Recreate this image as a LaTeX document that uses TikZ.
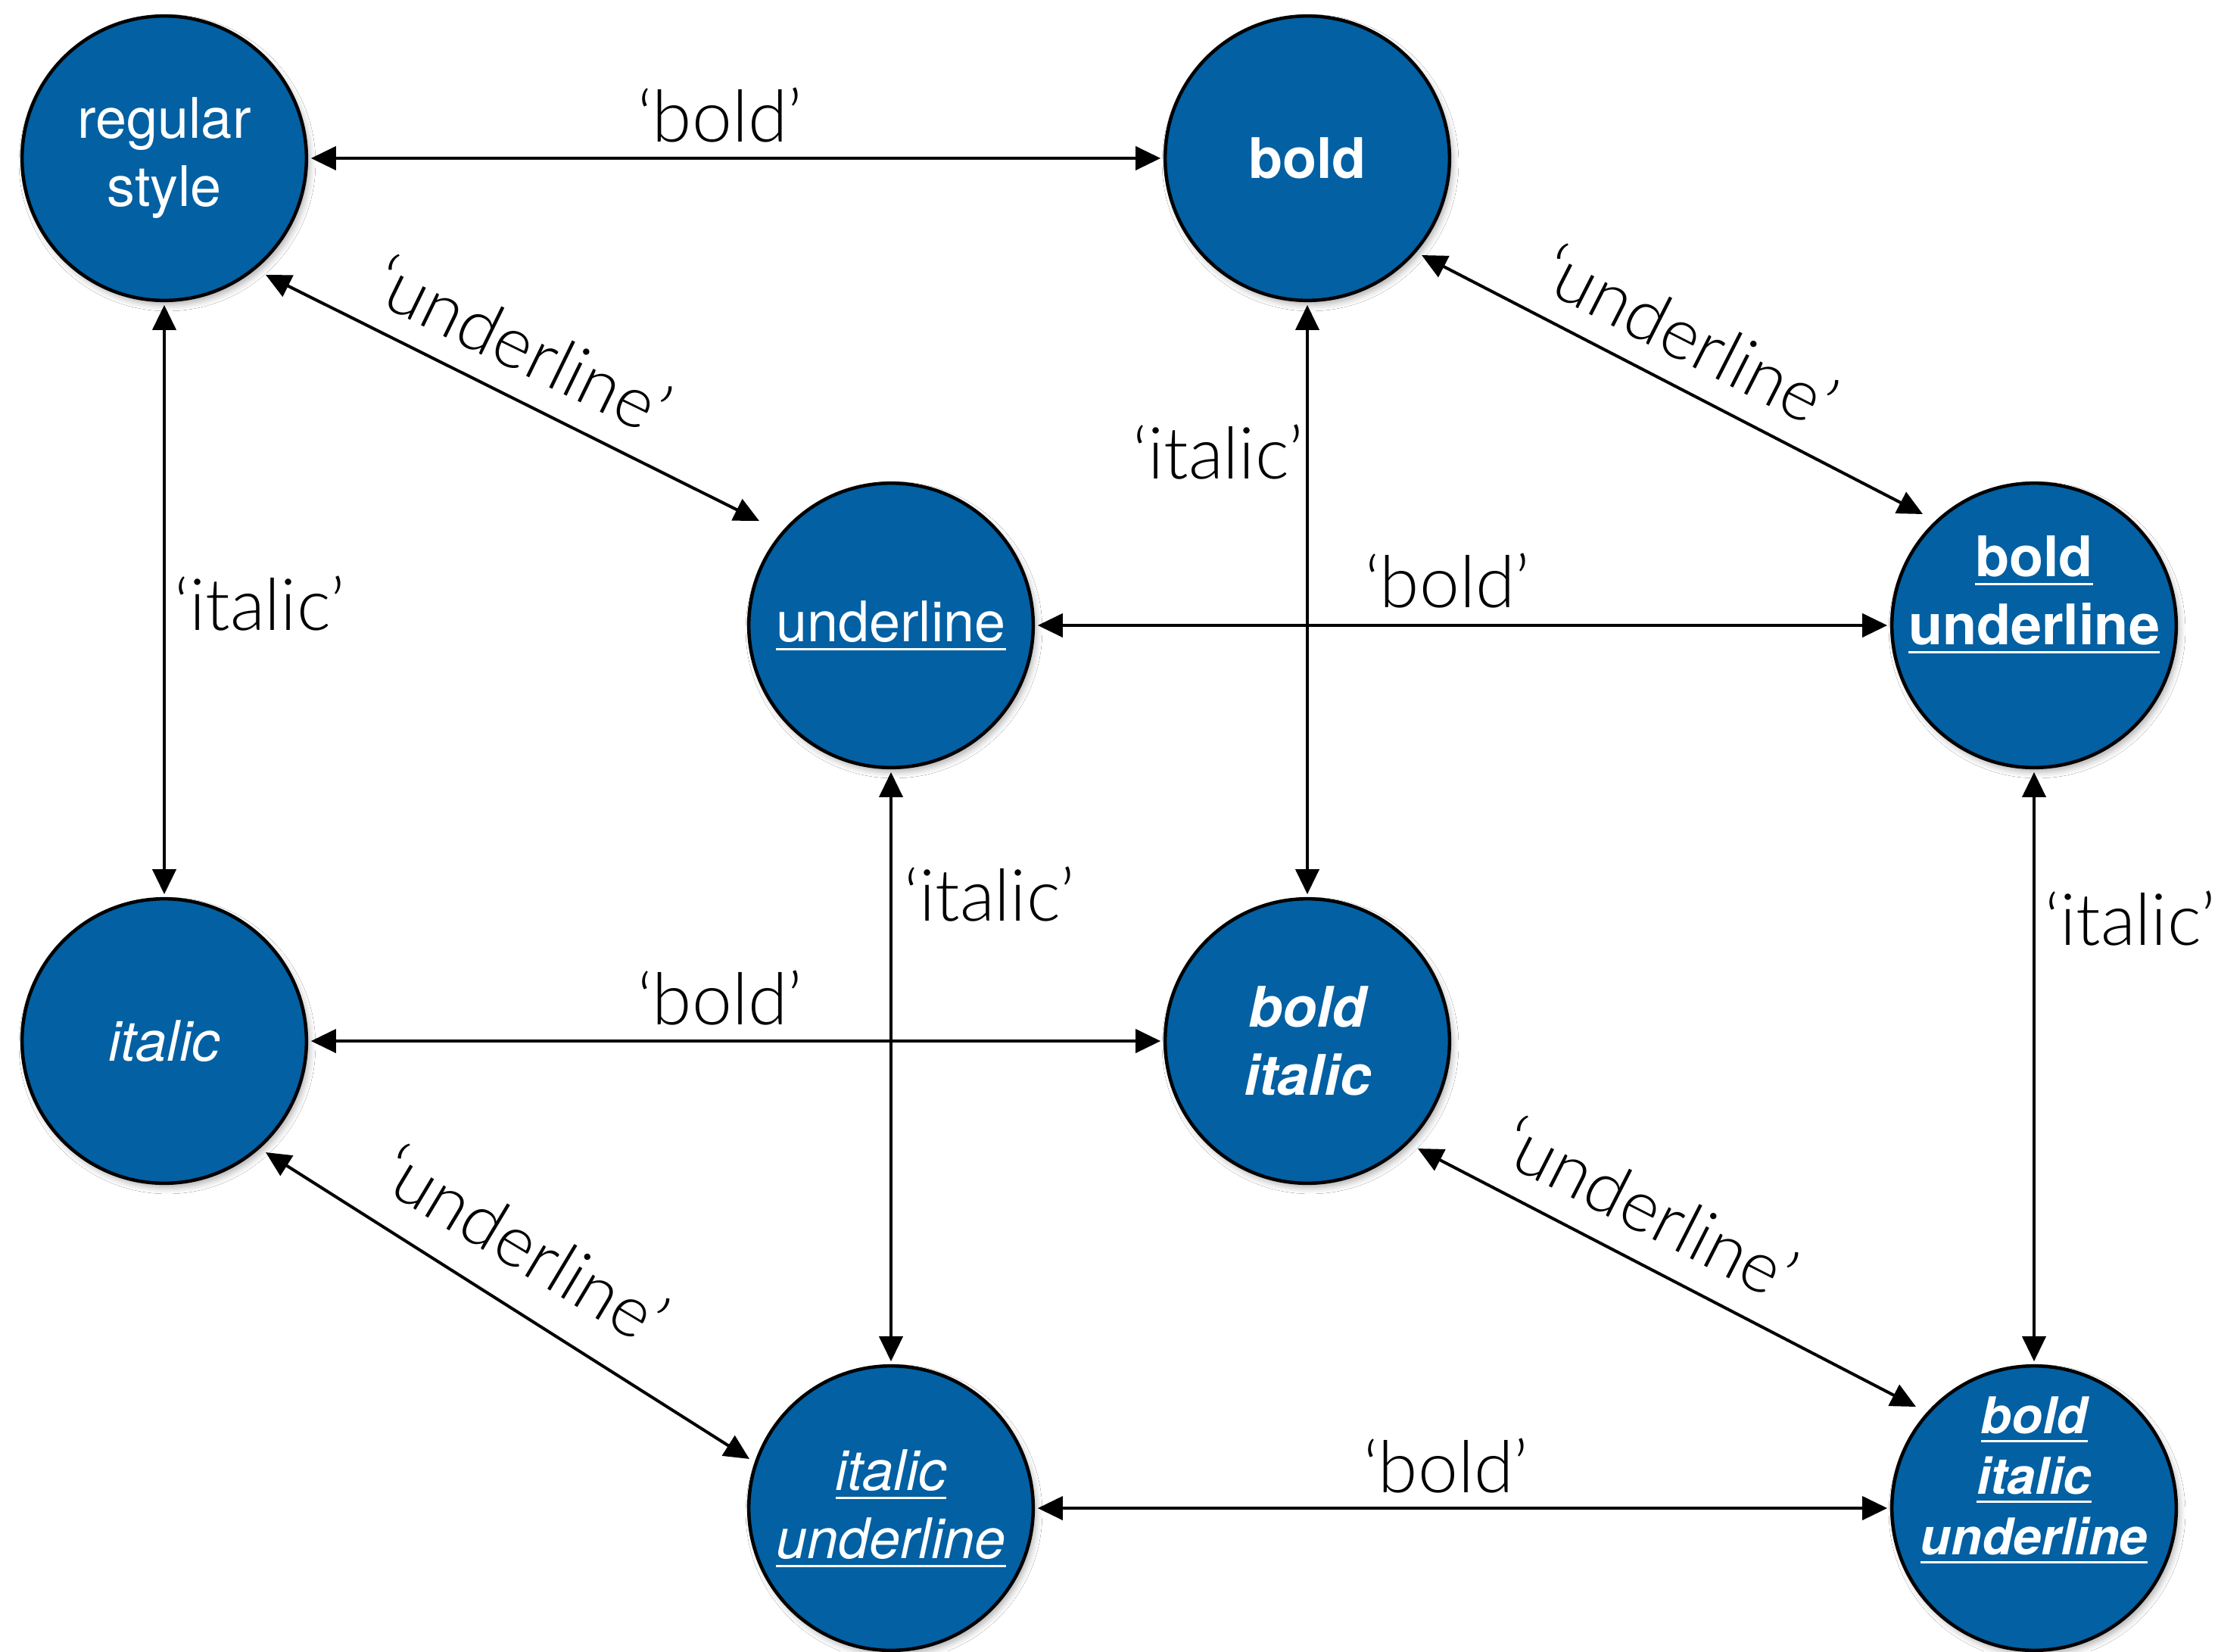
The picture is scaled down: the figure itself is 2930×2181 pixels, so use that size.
\documentclass[tikz,border=0pt]{standalone}
\usepackage{fontspec}
\setmainfont{TeX Gyre Heros}
\IfFontExistsTF{Lato Light}{\newfontfamily\lblfont{Lato Light}}{\newfontfamily\lblfont{Liberation Sans}}
\usetikzlibrary{arrows.meta,calc,shadows.blur}
\definecolor{nodeblue}{RGB}{2,96,163}
\newcommand\myul[1]{\leavevmode\vtop{\hbox{#1}\kern2.2pt\hrule height0.8pt}}
\newcommand\nodefont{\fontsize{21}{25.6}\selectfont}
\begin{document}
\begin{tikzpicture}[x=0.01cm,y=-0.01cm,
  circ/.style={circle, fill=nodeblue, draw=black, line width=0.045cm, minimum size=3.755cm,
    inner sep=0pt, outer sep=0.06cm, text=white, align=center, font=\nodefont,
    blur shadow={shadow xshift=0.04cm, shadow yshift=-0.06cm, shadow blur radius=0.08cm, shadow opacity=30}},
  ntext/.style={text=white, align=center, inner sep=0pt},
  lbl/.style={font=\lblfont\fontsize{27}{30}\selectfont, inner sep=0pt},
  arr/.style={{Triangle[length=0.33cm,width=0.31cm]}-{Triangle[length=0.33cm,width=0.31cm]}, line width=0.04cm}]
\fill[white] (0,0) rectangle (2930,2181);
\useasboundingbox (0,0) rectangle (2930,2181);

% nodes
\node[circ] (reg) at (217,209) {regular\\style};
\node[circ, font=\nodefont\bfseries] (bold) at (1727,209) {bold};
\node[circ] (und) at (1177,826) {\myul{underline}};
\node[circ] (bu) at (2687,826) {};
\node[ntext, font=\nodefont\bfseries] (buT) at ($(bu)+(0,-41)$) {\myul{bold}\\\myul{underline}};
\node[circ, font=\nodefont\itshape] (ita) at (217,1375) {italic};
\node[circ, font=\nodefont\bfseries\itshape] (bi) at (1727,1375) {bold\\italic};
\node[circ, font=\nodefont\itshape] (iu) at (1177,1992) {\myul{italic}\\\myul{underline}};
\node[circ] (biu) at (2687,1992) {};
\node[ntext, font=\fontsize{19}{22.8}\selectfont\bfseries\itshape] (biuT) at ($(biu)+(0,-37)$) {\myul{bold}\\\myul{italic}\\\myul{underline}};

% connectors
\draw[arr] (reg) -- (bold);
\draw[arr] (und) -- (bu);
\draw[arr] (ita) -- (bi);
\draw[arr] (iu) -- (biu);
\draw[arr] (reg) -- (ita);
\draw[arr] (bold) -- (bi);
\draw[arr] (und) -- (iu);
\draw[arr] (bu) -- (biu);
\draw[arr] ($(reg)+(134,154)$) -- ($(und)+(-174,-138)$);
\draw[arr] ($(bold)+(151,128)$) -- ($(bu)+(-147,-147)$);
\draw[arr] ($(ita)+(134,147)$) -- ($(iu)+(-187,-65)$);
\draw[arr] ($(bi)+(146,142)$) -- ($(biu)+(-156,-134)$);

% labels
\node[lbl, anchor=base] (l1) at (951,187) {‘bold’};
\node[lbl, anchor=base] (l2) at (343,832) {‘italic’};
\node[lbl, anchor=base] (l3) at (1609,632) {‘italic’};
\node[lbl, anchor=base] (l4) at (1912,802) {‘bold’};
\node[lbl, anchor=base] (l5) at (1307,1216) {‘italic’};
\node[lbl, anchor=base] (l6) at (2814,1248) {‘italic’};
\node[lbl, anchor=base] (l7) at (951,1353) {‘bold’};
\node[lbl, anchor=base] (l8) at (1910,1971) {‘bold’};
\node[lbl, rotate=-26] (l9) at (690,455) {‘underline’};
\node[lbl, rotate=-27] (l10) at (2232,443) {‘underline’};
\node[lbl, rotate=-31] (l11) at (693,1643) {‘underline’};
\node[lbl, rotate=-27] (l12) at (2179,1595) {‘underline’};
\end{tikzpicture}
\end{document}
